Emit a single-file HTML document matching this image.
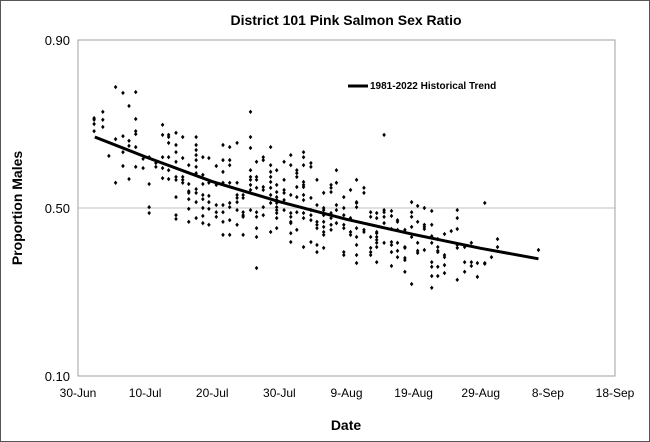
<!DOCTYPE html>
<html><head><meta charset="utf-8"><style>
body{margin:0;background:#fff}
svg{display:block;font-family:"Liberation Sans",Arial,sans-serif}
</style></head><body>
<svg id="chart" width="650" height="442" viewBox="0 0 650 442">
<rect x="0.5" y="0.5" width="649" height="441" fill="#fff" stroke="#555" stroke-width="1"/>
<text x="346" y="25" text-anchor="middle" font-size="14" font-weight="bold">District 101 Pink Salmon Sex Ratio</text>
<g id="grid"></g>
<rect x="78" y="40" width="537" height="336" fill="none" stroke="#a0a0a0" stroke-width="1"/>
<g id="points"></g>
<g id="trend"></g>
<g id="axes"></g>
<g>
<line x1="348" y1="86" x2="368" y2="86" stroke="#000" stroke-width="3"/>
<text x="370" y="89" font-size="10" font-weight="bold">1981-2022 Historical Trend</text>
</g>
<text x="346" y="430" text-anchor="middle" font-size="14" font-weight="bold">Date</text>
<text transform="translate(22,208) rotate(-90)" text-anchor="middle" font-size="14" font-weight="bold">Proportion Males</text>
</svg>
<script>
const xTickLabels = ["30-Jun","10-Jul","20-Jul","30-Jul","9-Aug","19-Aug","29-Aug","8-Sep","18-Sep"];
const xTickDays = [0,10,20,30,40,50,60,70,80];
const yTickValues = [0.10,0.50,0.90];
const yTickLabels = ["0.10","0.50","0.90"];
const trendDays = [2.5,10,20,30,40,50,60,68.6];
const trendValues = [0.669,0.622,0.563,0.515,0.473,0.437,0.404,0.379];
const dayCols = [2.4,3.7,4.6,5.6,6.7,7.6,8.6,9.7,10.6,11.6,12.6,13.5,14.6,15.6,16.5,17.6,18.6,19.5,20.6,21.6,22.6,23.7,24.6,25.7,26.6,27.6,28.7,29.6,30.7,31.7,32.6,33.6,34.7,35.6,36.6,37.7,38.5,39.6,40.6,41.5,42.6,43.6,44.5,45.6,46.7,47.6,48.7,49.7,50.6,51.6,52.7,53.6,54.6,55.6,56.5,57.6,58.6,59.5,60.6,61.6,62.5,68.6];
const valueCols = [
[0.714,0.710,0.700,0.683],[0.729,0.710,0.693],[0.624],[0.788,0.664,0.560],[0.774,0.671,0.633,0.600],
[0.743,0.660,0.648,0.569],[0.776,0.712,0.683,0.676,0.645,0.598],[0.617,0.595],[0.621,0.557,0.502,0.488],[0.607,0.598],
[0.698,0.674,0.621,0.595,0.571],[0.674,0.669,0.655,0.621,0.590,0.569],[0.679,0.650,0.633,0.610,0.574,0.567,0.526,0.483,0.474],
[0.669,0.619,0.574,0.567,0.560],[0.602,0.557,0.540,0.536,0.521,0.498,0.467],
[0.669,0.650,0.638,0.626,0.614,0.598,0.583,0.545,0.536,0.514,0.476],[0.621,0.579,0.557,0.531,0.521,0.500,0.481,0.464],
[0.619,0.560,0.529,0.514,0.498,0.460],[0.600,0.555,0.507,0.490,0.479],[0.650,0.614,0.586,0.560,0.507,0.490,0.467,0.436],
[0.645,0.614,0.602,0.560,0.512,0.502,0.471,0.436],[0.655,0.560,0.531,0.524,0.514,0.495,0.460],[0.531,0.524,0.490,0.483,0.479,0.436],
[0.729,0.669,0.643,0.590,0.574,0.567,0.555,0.543,0.495],[0.610,0.574,0.567,0.548,0.490,0.479,0.452,0.431,0.357],
[0.621,0.614,0.550,0.543,0.502,0.483],[0.645,0.602,0.586,0.574,0.562,0.548,0.531,0.512,0.443],
[0.590,0.555,0.538,0.526,0.519,0.512,0.502,0.495,0.488,0.476,0.452],[0.610,0.567,0.543,0.536,0.519,0.495],
[0.626,0.602,0.531,0.488,0.479,0.467,0.464,0.440,0.419],[0.590,0.583,0.574,0.550,0.526,0.490,0.448],
[0.633,0.621,0.602,0.562,0.555,0.550,0.531,0.519,0.488,0.476,0.407],[0.607,0.598,0.524,0.495,0.483,0.471,0.419],
[0.567,0.507,0.467,0.460,0.452,0.412,0.395],[0.536,0.500,0.495,0.483,0.467,0.455,0.443,0.436,0.405],
[0.555,0.548,0.538,0.488,0.476,0.460,0.448],[0.590,0.560,0.507,0.495,0.464],[0.526,0.500,0.483,0.460,0.452,0.395,0.388],
[0.543,0.476,0.443,0.436],[0.567,0.514,0.512,0.502,0.452,0.431,0.412,0.388,0.369],[0.548,0.536,0.448,0.443],
[0.490,0.479,0.431,0.405,0.395,0.388],[0.488,0.476,0.443,0.440,0.431,0.424,0.417,0.407,0.371],
[0.674,0.495,0.490,0.479,0.464,0.417],[0.493,0.481,0.450,0.419,0.412,0.395,0.362],[0.471,0.467,0.448,0.417,0.398,0.383],
[0.448,0.407,0.405,0.381,0.376,0.348],[0.514,0.490,0.479,0.455,0.431,0.319],[0.505,0.467,0.417,0.398,0.393],
[0.500,0.460,0.455,0.450,0.400],[0.493,0.460,0.433,0.417,0.371,0.360,0.338,0.310],[0.426,0.407,0.398,0.395,0.360,0.338],
[0.438,0.388,0.383,0.364,0.345],[0.445],[0.495,0.476,0.450,0.412,0.405,0.329],[0.407,0.371,0.348],[0.417,0.371,0.362],
[0.369,0.336],[0.512,0.369,0.367],[0.383],[0.426,0.407],[0.400]
];
const NS="http://www.w3.org/2000/svg";
const X0=78,X1=615,Y0=376,Y1=40;
function xs(d){return X0+(d-0)/80*(X1-X0);}
function ys(v){return Y0-(v-0.1)/0.8*(Y0-Y1);}
function mk(t,a,p){const e=document.createElementNS(NS,t);for(const k in a)e.setAttribute(k,a[k]);p.appendChild(e);return e;}
const grid=document.getElementById('grid'),axes=document.getElementById('axes'),pts=document.getElementById('points'),tr=document.getElementById('trend');
yTickValues.forEach((v,i)=>{
  if(i>0&&i<yTickValues.length-1){const g=mk('line',{x1:X0,x2:X1,y1:ys(v),y2:ys(v),stroke:'#c0c0c0','stroke-width':1},grid);
  
  }
  const t=mk('text',{x:70,y:ys(v)+5,'text-anchor':'end','font-size':13},axes);t.textContent=yTickLabels[i];
  
  
});
xTickDays.forEach((d,i)=>{
  const t=mk('text',{x:xs(d),y:397,'text-anchor':'middle','font-size':12},axes);t.textContent=xTickLabels[i];
  
  
});
dayCols.forEach((d,i)=>{valueCols[i].forEach(v=>{
  const x=xs(d),y=ys(v);
  const p=mk('path',{d:`M${x} ${y-2.2}L${x+1.8} ${y}L${x} ${y+2.2}L${x-1.8} ${y}Z`,fill:'#000'},pts);
  
  
});});
const pl=mk('polyline',{points:trendDays.map((d,i)=>xs(d)+','+ys(trendValues[i])).join(' '),fill:'none',stroke:'#000','stroke-width':3,'stroke-linejoin':'round'},tr);


</script>
</body></html>
